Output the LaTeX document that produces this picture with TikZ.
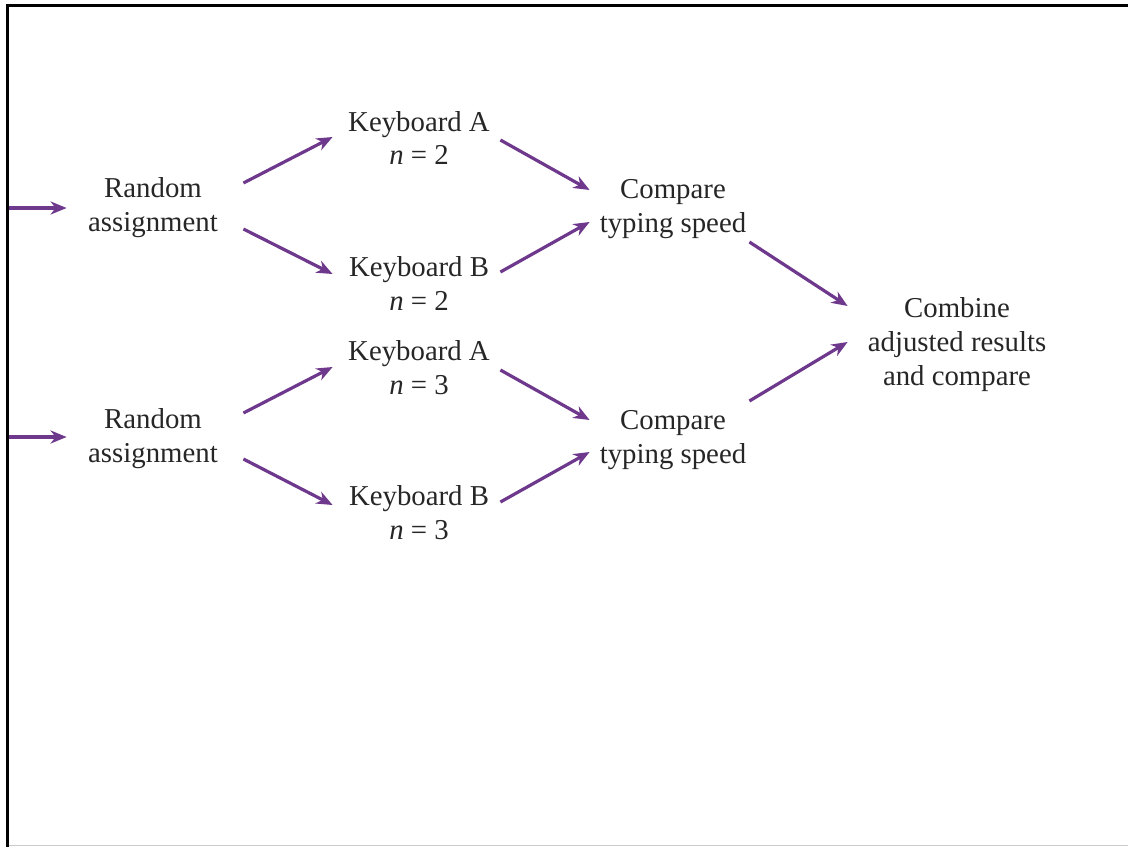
\documentclass[tikz,border=0pt]{standalone}
\usepackage{fontspec}
\setmainfont{Liberation Serif}
\usetikzlibrary{arrows.meta}
\definecolor{arrowpurple}{RGB}{110,56,140}
\tikzset{
  stage/.style={align=center, inner sep=0pt, minimum height=30pt, text=black!85, font=\fontsize{14.4}{17}\selectfont},
  flow/.style={draw=arrowpurple, line width=1.6pt, -{Stealth[length=8pt,width=6.5pt,inset=2.5pt]}}
}
\begin{document}
\begin{tikzpicture}[x=0.5pt,y=-0.5pt]
  \useasboundingbox (0,0) rectangle (1128,847);
  % frame
  \draw[line width=1.5pt] (7.5,847) -- (7.5,5) -- (1128,5);
  \draw[black!20, line width=0.6pt] (9,845.5) -- (1128,845.5);
  % nodes
  \node[stage, minimum width=90pt] (ra1) at (153,208) {Random\\assignment};
  \node[stage, minimum width=90pt] (ra2) at (153,439) {Random\\assignment};
  \node[stage, minimum width=83pt] (ka2) at (419,138) {Keyboard A\\\textit{n} = 2};
  \node[stage, minimum width=83pt] (kb2) at (419,283) {Keyboard B\\\textit{n} = 2};
  \node[stage, minimum width=83pt] (ka3) at (419,368) {Keyboard A\\\textit{n} = 3};
  \node[stage, minimum width=83pt] (kb3) at (419,513) {Keyboard B\\\textit{n} = 3};
  \node[stage, minimum width=80pt] (cmp1) at (673,209) {Compare\\typing speed};
  \node[stage, minimum width=80pt] (cmp2) at (673,440) {Compare\\typing speed};
  \node[stage, minimum width=109pt] (comb) at (957,345) {Combine\\adjusted results\\and compare};
  \coordinate (in1) at (9,208);
  \coordinate (in2) at (9,437);
  % connectors
  \draw[flow] (in1) -- ([shift={(4,0)}]ra1.west);
  \draw[flow] (in2) -- ([shift={(4,-2)}]ra2.west);
  \draw[flow] ([shift={(0,-25)}]ra1.east) -- ([shift={(-3,-1)}]ka2.west);
  \draw[flow] ([shift={(0,21)}]ra1.east) -- ([shift={(-3,-9)}]kb2.west);
  \draw[flow] ([shift={(-2,2)}]ka2.east) -- ([shift={(-3,-19)}]cmp1.west);
  \draw[flow] ([shift={(-2,-11)}]kb2.east) -- ([shift={(-3,13)}]cmp1.west);
  \draw[flow] ([shift={(0,-26)}]ra2.east) -- ([shift={(-3,-1)}]ka3.west);
  \draw[flow] ([shift={(0,20)}]ra2.east) -- ([shift={(-3,-8)}]kb3.west);
  \draw[flow] ([shift={(-2,2)}]ka3.east) -- ([shift={(-3,-20)}]cmp2.west);
  \draw[flow] ([shift={(-2,-11)}]kb3.east) -- ([shift={(-3,12)}]cmp2.west);
  \draw[flow] ([shift={(-4,33)}]cmp1.east) -- ([shift={(0,-39)}]comb.west);
  \draw[flow] ([shift={(-4,-39)}]cmp2.east) -- ([shift={(0,-3)}]comb.west);
\end{tikzpicture}
\end{document}
